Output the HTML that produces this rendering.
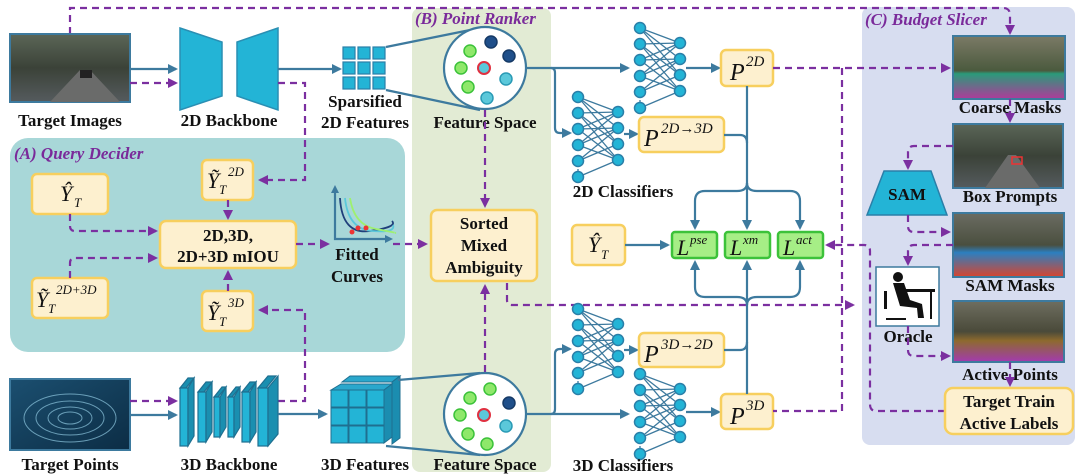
<!DOCTYPE html>
<html><head><meta charset="utf-8"><style>
html,body{margin:0;padding:0;background:#fff}
svg{display:block}
.lb{font-family:"Liberation Serif",serif;font-weight:bold;font-size:17px;fill:#111;text-anchor:middle}
.it{font-family:"Liberation Serif",serif;font-style:italic;font-weight:bold;font-size:17px;fill:#7a2a9a}
.m{font-family:"Liberation Serif",serif;font-style:italic;fill:#111}
.s{stroke:#3d7a9e;stroke-width:2.2;fill:none}
.d{stroke:#7b2fa0;stroke-width:2.2;fill:none;stroke-dasharray:7 5}
.yb{fill:#fdf0cf;stroke:#f7cf5e;stroke-width:2.5}
.gb{fill:#a6ee86;stroke:#3cc23a;stroke-width:2.5}
</style></head><body>
<svg width="1080" height="476" viewBox="0 0 1080 476" xmlns="http://www.w3.org/2000/svg">
<defs>
<marker id="ab" markerWidth="10" markerHeight="10" refX="8" refY="5" orient="auto" markerUnits="userSpaceOnUse"><path d="M0,0 L10,5 L0,10 Z" fill="#3d7a9e"/></marker>
<marker id="ap" markerWidth="10" markerHeight="10" refX="8" refY="5" orient="auto" markerUnits="userSpaceOnUse"><path d="M0,0 L10,5 L0,10 Z" fill="#7b2fa0"/></marker>
<linearGradient id="img1" x1="0" y1="0" x2="0" y2="1"><stop offset="0" stop-color="#5b6657"/><stop offset="0.5" stop-color="#3b4238"/><stop offset="1" stop-color="#555b5e"/></linearGradient>
<linearGradient id="pts" x1="0" y1="0" x2="1" y2="1"><stop offset="0" stop-color="#1b4f70"/><stop offset="1" stop-color="#0c2d45"/></linearGradient>
<linearGradient id="cm" x1="0" y1="0" x2="0" y2="1"><stop offset="0" stop-color="#7b7a66"/><stop offset="0.55" stop-color="#4b5a3e"/><stop offset="0.6" stop-color="#2a9a7a"/><stop offset="1" stop-color="#b03a9a"/></linearGradient>
<linearGradient id="sm" x1="0" y1="0" x2="0" y2="1"><stop offset="0" stop-color="#6b6c62"/><stop offset="0.5" stop-color="#4a4f3f"/><stop offset="0.62" stop-color="#2c7fc0"/><stop offset="1" stop-color="#d8442e"/></linearGradient>
<linearGradient id="ap2" x1="0" y1="0" x2="0" y2="1"><stop offset="0" stop-color="#6e6e60"/><stop offset="0.5" stop-color="#4a4a3a"/><stop offset="0.65" stop-color="#8d6a2e"/><stop offset="1" stop-color="#a33ab0"/></linearGradient>
<g id="nn">
<g stroke="#3d7a9e" stroke-width="1.3">
<line x1="0" y1="0" x2="40" y2="15"/><line x1="0" y1="0" x2="40" y2="31"/><line x1="0" y1="16" x2="40" y2="15"/><line x1="0" y1="16" x2="40" y2="47"/><line x1="0" y1="32" x2="40" y2="15"/><line x1="0" y1="32" x2="40" y2="31"/><line x1="0" y1="32" x2="40" y2="63"/><line x1="0" y1="48" x2="40" y2="31"/><line x1="0" y1="48" x2="40" y2="63"/><line x1="0" y1="64" x2="40" y2="47"/><line x1="0" y1="0" x2="40" y2="47"/><line x1="0" y1="16" x2="40" y2="63"/><line x1="0" y1="48" x2="40" y2="15"/><line x1="0" y1="64" x2="40" y2="31"/>
<line x1="0" y1="64" x2="0" y2="76" stroke-dasharray="2 2"/><line x1="0" y1="80" x2="40" y2="63"/>
</g>
<g fill="#23b4d6" stroke="#2a7fa8" stroke-width="1.5">
<circle cx="0" cy="0" r="5.5"/><circle cx="0" cy="16" r="5.5"/><circle cx="0" cy="32" r="5.5"/><circle cx="0" cy="48" r="5.5"/><circle cx="0" cy="64" r="5.5"/><circle cx="0" cy="80" r="5.5"/>
<circle cx="40" cy="15" r="5.5"/><circle cx="40" cy="31" r="5.5"/><circle cx="40" cy="47" r="5.5"/><circle cx="40" cy="63" r="5.5"/>
</g>
</g>
</defs>

<!-- panels -->
<rect x="412" y="8" width="139" height="464" rx="8" fill="#e2ebd4"/>
<rect x="862" y="7" width="213" height="438" rx="8" fill="#d7ddf0"/>
<rect x="10" y="138" width="395" height="214" rx="18" fill="#a8d7d8"/>
<text class="it" x="415" y="24">(B) Point Ranker</text>
<text class="it" x="865" y="25">(C) Budget Slicer</text>
<text class="it" x="14" y="159">(A) Query Decider</text>

<!-- top dashed -->
<path class="d" d="M70,34 V8 H1003 Q1010,8 1010,15 V33" marker-end="url(#ap)"/>

<!-- target images -->
<rect x="10" y="34" width="120" height="68" fill="url(#img1)" stroke="#3d7a9e" stroke-width="2"/>
<path d="M50,102 L80,70 L90,70 L120,102 Z" fill="#6a6b6a"/>
<rect x="80" y="70" width="12" height="8" fill="#222"/>
<text class="lb" x="70" y="126">Target Images</text>
<path class="s" d="M130,69 H176" marker-end="url(#ab)"/>
<path class="d" d="M130,83 H176" marker-end="url(#ap)"/>

<!-- 2D backbone -->
<path d="M180,28 L222,42 L222,96 L180,110 Z" fill="#23b4d6" stroke="#2a8fb3" stroke-width="1.5"/>
<path d="M278,28 L237,42 L237,96 L278,110 Z" fill="#23b4d6" stroke="#2a8fb3" stroke-width="1.5"/>
<text class="lb" x="229" y="126">2D Backbone</text>
<path class="s" d="M278,69 H340" marker-end="url(#ab)"/>
<path class="d" d="M278,83 H305 V180 H260" marker-end="url(#ap)"/>

<!-- sparsified grid -->
<g fill="#23b4d6" stroke="#2a7fa8" stroke-width="1.2">
<rect x="343" y="47" width="12" height="12"/><rect x="358" y="47" width="12" height="12"/><rect x="373" y="47" width="12" height="12"/>
<rect x="343" y="62" width="12" height="12"/><rect x="358" y="62" width="12" height="12"/><rect x="373" y="62" width="12" height="12"/>
<rect x="343" y="77" width="12" height="12"/><rect x="358" y="77" width="12" height="12"/><rect x="373" y="77" width="12" height="12"/>
</g>
<text class="lb" x="365" y="107">Sparsified</text>
<text class="lb" x="365" y="128">2D Features</text>
<path class="s" d="M386,47 L480,28 M386,90 L480,110"/>

<!-- feature space top -->
<circle cx="485" cy="68" r="41" fill="#fff" stroke="#3d7a9e" stroke-width="2.2"/>
<g stroke-width="1.5">
<circle cx="470" cy="51" r="6" fill="#8ee86a" stroke="#3cc23a"/><circle cx="491" cy="42" r="6" fill="#1f4f8a" stroke="#163a66"/>
<circle cx="509" cy="56" r="6" fill="#1f4f8a" stroke="#163a66"/><circle cx="461" cy="68" r="6" fill="#8ee86a" stroke="#3cc23a"/>
<circle cx="484" cy="68" r="6" fill="#5bc8da" stroke="#e03040" stroke-width="2"/><circle cx="506" cy="79" r="6" fill="#5bc8da" stroke="#2a9ab5"/>
<circle cx="468" cy="87" r="6" fill="#8ee86a" stroke="#3cc23a"/><circle cx="487" cy="98" r="6" fill="#5bc8da" stroke="#2a9ab5"/>
</g>
<text class="lb" x="485" y="128">Feature Space</text>
<path class="d" d="M485,110 V206" marker-end="url(#ap)"/>

<!-- sorted box -->
<rect class="yb" x="431" y="210" width="106" height="71" rx="6"/>
<text class="lb" x="484" y="229">Sorted</text>
<text class="lb" x="484" y="251">Mixed</text>
<text class="lb" x="484" y="273">Ambiguity</text>
<path class="d" d="M485,372 V286" marker-end="url(#ap)"/>
<path class="d" d="M507,283 V300 Q507,305 512,305 H853" marker-end="url(#ap)"/>

<!-- panel A boxes -->
<rect class="yb" x="32" y="174" width="76" height="40" rx="5"/>
<text class="m" x="60" y="201" font-size="22">Ŷ</text><text class="m" x="74" y="207" font-size="13">T</text>
<rect class="yb" x="202" y="160" width="51" height="40" rx="5"/>
<text class="m" x="207" y="188" font-size="22">Ỹ</text><text class="m" x="219" y="194" font-size="13">T</text><text class="m" x="228" y="176" font-size="13">2D</text>
<rect class="yb" x="202" y="291" width="51" height="40" rx="5"/>
<text class="m" x="207" y="320" font-size="22">Ỹ</text><text class="m" x="219" y="326" font-size="13">T</text><text class="m" x="228" y="307" font-size="13">3D</text>
<rect class="yb" x="32" y="278" width="76" height="40" rx="5"/>
<text class="m" x="36" y="307" font-size="22">Ỹ</text><text class="m" x="48" y="313" font-size="13">T</text><text class="m" x="56" y="294" font-size="13">2D+3D</text>
<rect class="yb" x="160" y="221" width="136" height="47" rx="6"/>
<text class="lb" x="228" y="241">2D,3D,</text>
<text class="lb" x="228" y="262">2D+3D mIOU</text>
<path class="d" d="M70,214 V226 Q70,231 75,231 H156" marker-end="url(#ap)"/>
<path class="d" d="M70,278 V263 Q70,258 75,258 H156" marker-end="url(#ap)"/>
<path class="d" d="M228,200 V218" marker-end="url(#ap)"/>
<path class="d" d="M228,291 V272" marker-end="url(#ap)"/>
<path class="d" d="M296,244 H328" marker-end="url(#ap)"/>
<path class="d" d="M278,401 H305 V310 H260" marker-end="url(#ap)"/>

<!-- curves -->
<path class="s" d="M335,188 V239 H390" stroke-width="2.5"/>
<path d="M335,185 l-4,8 h8 z M393,239 l-8,-4 v8 z" fill="#3d7a9e"/>
<path d="M340,198 Q342,235 370,231 T392,221" stroke="#1f3f7a" stroke-width="1.8" fill="none"/>
<path d="M345,198 Q348,229 372,231 T393,225" stroke="#5bc8da" stroke-width="1.8" fill="none"/>
<path d="M350,198 Q354,225 376,229 T395,233" stroke="#9ef070" stroke-width="1.8" fill="none"/>
<circle cx="352" cy="232" r="2.5" fill="#e33"/><circle cx="358" cy="228" r="2.5" fill="#e33"/><circle cx="366" cy="228" r="2.5" fill="#e33"/>
<text class="lb" x="357" y="260">Fitted</text>
<text class="lb" x="357" y="282">Curves</text>
<path class="d" d="M393,244 H426" marker-end="url(#ap)"/>

<!-- target points -->
<rect x="10" y="379" width="120" height="71" fill="url(#pts)" stroke="#3d7a9e" stroke-width="2"/>
<g stroke="#8fc8e0" stroke-width="1" fill="none" opacity="0.7">
<ellipse cx="70" cy="418" rx="12" ry="6"/><ellipse cx="70" cy="418" rx="22" ry="11"/><ellipse cx="70" cy="418" rx="34" ry="17"/><ellipse cx="70" cy="418" rx="46" ry="24"/>
</g>
<text class="lb" x="70" y="470">Target Points</text>
<path class="d" d="M130,401 H176" marker-end="url(#ap)"/>
<path class="s" d="M130,415 H176" marker-end="url(#ab)"/>

<!-- 3D backbone -->
<g fill="#23b4d6" stroke="#1f6f90" stroke-width="1.2">
<path d="M180,388 l8,-10 h6 l-8,10 z" fill="#1a8fb0"/><rect x="180" y="388" width="8" height="58"/><path d="M188,388 l6,-10 v58 l-6,10 z" fill="#1a8fb0"/>
<path d="M198,392 l8,-10 h6 l-8,10 z" fill="#1a8fb0"/><rect x="198" y="392" width="8" height="50"/><path d="M206,392 l6,-10 v50 l-6,10 z" fill="#1a8fb0"/>
<path d="M214,397 l8,-10 h4 l-8,10 z" fill="#1a8fb0"/><rect x="214" y="397" width="6" height="40"/><path d="M220,397 l6,-10 v40 l-6,10 z" fill="#1a8fb0"/>
<path d="M228,397 l8,-10 h4 l-8,10 z" fill="#1a8fb0"/><rect x="228" y="397" width="6" height="40"/><path d="M234,397 l6,-10 v40 l-6,10 z" fill="#1a8fb0"/>
<path d="M242,392 l8,-10 h6 l-8,10 z" fill="#1a8fb0"/><rect x="242" y="392" width="8" height="50"/><path d="M250,392 l6,-10 v50 l-6,10 z" fill="#1a8fb0"/>
<path d="M258,388 l10,-12 h8 l-10,12 z" fill="#1a8fb0"/><rect x="258" y="388" width="10" height="58"/><path d="M268,388 l10,-12 v58 l-10,12 z" fill="#1a8fb0"/>
</g>
<text class="lb" x="229" y="470">3D Backbone</text>
<path class="s" d="M278,414 H326" marker-end="url(#ab)"/>

<!-- 3D features cubes -->
<g stroke="#1f6f90" stroke-width="1">
<path d="M342,382 h50 l8,-6 h-50 z" fill="#2aa7cc"/>
<path d="M392,382 l8,-6 v62 l-8,6 z" fill="#1b8db0"/>
<g fill="#23b4d6">
<rect x="331" y="390" width="17" height="17"/><rect x="349" y="390" width="17" height="17"/><rect x="367" y="390" width="17" height="17"/>
<rect x="331" y="408" width="17" height="17"/><rect x="349" y="408" width="17" height="17"/><rect x="367" y="408" width="17" height="17"/>
<rect x="331" y="426" width="17" height="17"/><rect x="349" y="426" width="17" height="17"/><rect x="367" y="426" width="17" height="17"/>
</g>
<path d="M331,390 l10,-6 h51 l-8,6 z" fill="#2aa7cc"/>
<path d="M384,390 l8,-6 v53 l-8,6 z" fill="#1b8db0"/>
</g>
<text class="lb" x="365" y="470">3D Features</text>
<path class="s" d="M398,380 L480,373 M386,446 L480,455"/>

<!-- feature space bottom -->
<circle cx="485" cy="414" r="41" fill="#fff" stroke="#3d7a9e" stroke-width="2.2"/>
<g stroke-width="1.5">
<circle cx="490" cy="389" r="6" fill="#8ee86a" stroke="#3cc23a"/><circle cx="470" cy="398" r="6" fill="#8ee86a" stroke="#3cc23a"/>
<circle cx="509" cy="403" r="6" fill="#1f4f8a" stroke="#163a66"/><circle cx="460" cy="415" r="6" fill="#8ee86a" stroke="#3cc23a"/>
<circle cx="484" cy="415" r="6" fill="#5bc8da" stroke="#e03040" stroke-width="2"/><circle cx="506" cy="426" r="6" fill="#5bc8da" stroke="#2a9ab5"/>
<circle cx="468" cy="434" r="6" fill="#8ee86a" stroke="#3cc23a"/><circle cx="487" cy="444" r="6" fill="#8ee86a" stroke="#3cc23a"/>
</g>
<text class="lb" x="485" y="470">Feature Space</text>

<!-- solid lines to classifiers -->
<path class="s" d="M526,68 H628" marker-end="url(#ab)"/>
<path class="s" d="M551,68 Q555,68 555,73 V128 Q555,133 560,133 H570" marker-end="url(#ab)"/>
<path class="s" d="M526,414 H628" marker-end="url(#ab)"/>
<path class="s" d="M551,414 Q555,414 555,409 V354 Q555,349 560,349 H570" marker-end="url(#ab)"/>

<!-- neural nets -->
<use href="#nn" x="640" y="28"/>
<use href="#nn" x="578" y="97"/>
<use href="#nn" x="578" y="309"/>
<use href="#nn" x="640" y="374"/>
<text class="lb" x="623" y="197">2D Classifiers</text>
<text class="lb" x="623" y="471">3D Classifiers</text>

<path class="s" d="M686,68 H719" marker-end="url(#ab)"/>
<path class="s" d="M624,134 H637" marker-end="url(#ab)"/>
<path class="s" d="M624,350 H637" marker-end="url(#ab)"/>
<path class="s" d="M686,412 H719" marker-end="url(#ab)"/>

<!-- P boxes -->
<rect class="yb" x="721" y="50" width="52" height="36" rx="5"/>
<text class="m" x="730" y="80" font-size="24">P</text><text class="m" x="746" y="66" font-size="15">2D</text>
<rect class="yb" x="639" y="117" width="85" height="35" rx="5"/>
<text class="m" x="644" y="146" font-size="24">P</text><text class="m" x="661" y="133" font-size="15">2D→3D</text>
<rect class="yb" x="639" y="333" width="85" height="34" rx="5"/>
<text class="m" x="644" y="362" font-size="24">P</text><text class="m" x="661" y="349" font-size="15">3D→2D</text>
<rect class="yb" x="721" y="394" width="52" height="35" rx="5"/>
<text class="m" x="730" y="424" font-size="24">P</text><text class="m" x="746" y="410" font-size="15">3D</text>

<!-- Y hat -->
<rect class="yb" x="572" y="225" width="53" height="40" rx="5"/>
<text class="m" x="588" y="252" font-size="22">Ŷ</text><text class="m" x="601" y="259" font-size="13">T</text>
<path class="s" d="M625,245 H668" marker-end="url(#ab)"/>

<!-- L boxes -->
<rect class="gb" x="672" y="232" width="45" height="26" rx="3"/>
<text class="m" x="677" y="255" font-size="22">L</text><text class="m" x="690" y="244" font-size="13">pse</text>
<rect class="gb" x="725" y="232" width="45" height="26" rx="3"/>
<text class="m" x="730" y="255" font-size="22">L</text><text class="m" x="743" y="244" font-size="13">xm</text>
<rect class="gb" x="778" y="232" width="45" height="26" rx="3"/>
<text class="m" x="783" y="255" font-size="22">L</text><text class="m" x="796" y="244" font-size="13">act</text>

<!-- solid branches -->
<path class="s" d="M747,86 V228" marker-end="url(#ab)"/>
<path class="s" d="M724,135 H740 Q747,135 747,143"/>
<path class="s" d="M747,183 Q747,191 737,191 H705 Q695,191 695,201 V228" marker-end="url(#ab)"/>
<path class="s" d="M747,183 Q747,191 757,191 H790 Q800,191 800,201 V228" marker-end="url(#ab)"/>
<path class="s" d="M747,394 V262" marker-end="url(#ab)"/>
<path class="s" d="M724,350 H740 Q747,350 747,342"/>
<path class="s" d="M747,305 Q747,297 737,297 H705 Q695,297 695,287 V262" marker-end="url(#ab)"/>
<path class="s" d="M747,305 Q747,297 757,297 H790 Q800,297 800,287 V262" marker-end="url(#ab)"/>

<!-- purple dashed right side -->
<path class="d" d="M773,68 H949" marker-end="url(#ap)"/>
<path class="d" d="M842,68 V411 H773"/>
<path class="d" d="M945,411 H876 Q870,411 870,404 V251 Q870,245 864,245 H827" marker-end="url(#ap)"/>

<!-- panel C images -->
<rect x="953" y="36" width="112" height="63" fill="url(#cm)" stroke="#3d7a9e" stroke-width="2"/>
<text class="lb" x="1010" y="113">Coarse Masks</text>
<path class="d" d="M1010,99 V121" marker-end="url(#ap)"/>
<rect x="953" y="124" width="110" height="64" fill="url(#img1)" stroke="#3d7a9e" stroke-width="2"/>
<path d="M985,188 L1008,155 L1016,155 L1040,188 Z" fill="#6a6b6a"/>
<rect x="1012" y="157" width="10" height="7" fill="none" stroke="#e33" stroke-width="1.5"/>
<text class="lb" x="1010" y="202">Box Prompts</text>
<path class="d" d="M953,146 H914 Q908,146 908,152 V168" marker-end="url(#ap)"/>
<path d="M884,171 L931,171 L947,215 L867,215 Z" fill="#23b4d6" stroke="#2a7fa8" stroke-width="1.5"/>
<text class="lb" x="907" y="200">SAM</text>
<path class="d" d="M908,215 V226 Q908,232 914,232 H949" marker-end="url(#ap)"/>
<rect x="953" y="213" width="111" height="64" fill="url(#sm)" stroke="#3d7a9e" stroke-width="2"/>
<text class="lb" x="1010" y="291">SAM Masks</text>
<path class="d" d="M953,245 H914 Q908,245 908,251 V264" marker-end="url(#ap)"/>
<rect x="876" y="267" width="63" height="59" fill="#fff" stroke="#3d7a9e" stroke-width="1.5"/>
<g fill="#111">
<circle cx="898" cy="277" r="5"/><path d="M893,283 L904,283 L910,300 L922,304 L924,318 L918,318 L917,308 L900,306 Z"/>
<rect x="905" y="289" width="30" height="3"/><rect x="930" y="292" width="2" height="27"/>
<rect x="884" y="291" width="3" height="18"/><rect x="886" y="318" width="20" height="2"/>
</g>
<text class="lb" x="908" y="342">Oracle</text>
<path class="d" d="M908,326 V350 Q908,356 914,356 H949" marker-end="url(#ap)"/>
<rect x="953" y="301" width="111" height="61" fill="url(#ap2)" stroke="#3d7a9e" stroke-width="2"/>
<text class="lb" x="1010" y="380">Active Points</text>
<path class="d" d="M1010,362 V385" marker-end="url(#ap)"/>
<rect class="yb" x="945" y="388" width="128" height="46" rx="8"/>
<text class="lb" x="1009" y="407">Target Train</text>
<text class="lb" x="1009" y="429">Active Labels</text>
</svg>
</body></html>
